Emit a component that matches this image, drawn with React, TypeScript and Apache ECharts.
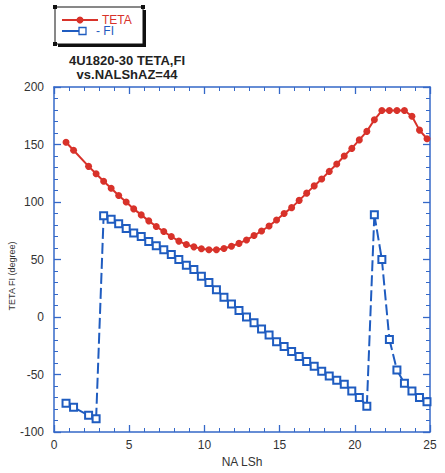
import React, { useEffect, useRef } from 'react';
import * as echarts from 'echarts';

// NA LSh positions shared by both curves
const xs = [
  0.8, 1.3, 2.3, 2.8, 3.3, 3.8, 4.3, 4.8, 5.3, 5.8, 6.3, 6.8, 7.3, 7.8, 8.3, 8.8,
  9.3, 9.8, 10.3, 10.8, 11.3, 11.8, 12.3, 12.8, 13.3, 13.8, 14.3, 14.8, 15.3, 15.8,
  16.3, 16.8, 17.3, 17.8, 18.3, 18.8, 19.3, 19.8, 20.3, 20.8, 21.3, 21.8, 22.3, 22.8,
  23.3, 23.8, 24.3, 24.8,
];

const teta = [
  152, 145, 131, 124.5, 118, 112, 105.7, 100, 94, 88.8, 83.6, 78.7, 74.3, 70, 66, 63,
  61, 59.3, 58.5, 58.5, 59.5, 61.5, 64, 67, 70.8, 74.8, 79.1, 84.3, 90, 95.1,
  101.4, 107.7, 114, 120, 126.6, 133, 140, 146.6, 154, 161.4, 171.5, 179.5, 179.5, 179.5,
  179.5, 174.5, 162.5, 155,
];

const fi = [
  -75, -78.5, -85.5, -88.5, 88, 85, 81, 77, 73, 70, 65.7, 62, 58.5, 54.3, 50, 45,
  41.4, 35.5, 30, 23.7, 17.1, 11.4, 5.7, 0, -5.1, -10.5, -15.7, -21.5, -25.7, -30,
  -34.3, -38.6, -42.9, -47.1, -51.4, -55.1, -58.5, -64.3, -70, -77.5, 89, 50, -19.5, -46,
  -57.7, -64.3, -70, -73.7,
];

const yTicks = { min: -100, max: 200, interval: 50 };
const xTicks = { min: 0, max: 25, interval: 5 };

const titleLines = ['4U1820-30 TETA,FI', 'vs.NALShAZ=44'];
const legendNames = ['TETA', '- FI'];

const RED = '#d8322a';
const BLUE = '#1f5cc0';
const AXIS = '#3468c8';
const FONT = '"Liberation Sans", Arial, Helvetica, sans-serif';

const isJump = (i: number) => i > 0 && Math.abs(fi[i] - fi[i - 1]) > 10;

const mkAxisLine = () => ({ show: true, onZero: false, lineStyle: { color: AXIS, width: 1.5 } });
const mkTick = () => ({ show: true, inside: true, length: 7, lineStyle: { color: AXIS, width: 1.3 } });
const mkMinor = () => ({ show: true, splitNumber: 5, length: 4, lineStyle: { color: AXIS, width: 1 } });

export default function App() {
  const ref = useRef<HTMLDivElement>(null);

  useEffect(() => {
    if (!ref.current) return;
    const chart = echarts.init(ref.current, undefined, { renderer: 'svg' });

    // FI split into continuous runs (solid, squares) and jumps (dashed)
    const runs: number[][] = [];
    const jumps: number[][] = [];
    xs.forEach((_, i) => {
      if (i === 0 || isJump(i)) runs.push([]);
      if (isJump(i)) jumps.push([i - 1, i]);
      runs[runs.length - 1].push(i);
    });

    const jumpSeries = jumps.map((seg) => ({
      type: 'line',
      data: seg.map((i) => [xs[i], fi[i]]),
      symbol: 'none',
      z: 2,
      lineStyle: { color: BLUE, width: 2, type: [11, 4] },
    }));
    const runSeries = runs.map((seg) => ({
      type: 'line',
      data: seg.map((i) => [xs[i], fi[i]]),
      symbol: 'emptyRect',
      symbolSize: 7,
      z: 3,
      itemStyle: { color: BLUE, borderColor: '#2a78d0', borderWidth: 1.3 },
      lineStyle: { color: BLUE, width: 2 },
    }));

    const text = (t: string, x: number, y: number, font: string, fill: string, align = 'center') => ({
      type: 'text',
      x,
      y,
      style: { text: t, align, verticalAlign: 'middle', font, fill },
    });

    const option: any = {
      animation: false,
      grid: { left: 54, right: 15, top: 87, bottom: 36 },
      graphic: [
        // legend box
        { type: 'rect', shape: { x: 58, y: 10, width: 88, height: 37 }, style: { fill: '#111' } },
        {
          type: 'rect',
          shape: { x: 55, y: 7, width: 88, height: 37 },
          style: { fill: '#fff', stroke: '#111', lineWidth: 1 },
        },
        { type: 'rect', shape: { x: 53, y: 5, width: 4, height: 4 }, style: { fill: '#111' } },
        { type: 'rect', shape: { x: 141, y: 5, width: 4, height: 4 }, style: { fill: '#111' } },
        { type: 'rect', shape: { x: 53, y: 42, width: 4, height: 4 }, style: { fill: '#111' } },
        { type: 'line', shape: { x1: 62, y1: 20, x2: 98, y2: 20 }, style: { stroke: RED, lineWidth: 2 } },
        { type: 'circle', shape: { cx: 80, cy: 20, r: 3.5 }, style: { fill: RED } },
        text(legendNames[0], 102, 20, `12px ${FONT}`, RED, 'left'),
        { type: 'line', shape: { x1: 62, y1: 31, x2: 80, y2: 31 }, style: { stroke: BLUE, lineWidth: 2 } },
        {
          type: 'rect',
          shape: { x: 79, y: 27.5, width: 7, height: 7 },
          style: { fill: '#fff', stroke: BLUE, lineWidth: 1.3 },
        },
        text(legendNames[1], 96, 31, `12px ${FONT}`, BLUE, 'left'),
        // title
        text(titleLines[0], 127, 60, `bold 13px ${FONT}`, '#222'),
        text(titleLines[1], 127, 74, `bold 13px ${FONT}`, '#222'),
        // y axis name
        {
          type: 'text',
          x: 12,
          y: 276,
          rotation: Math.PI / 2,
          style: {
            text: 'TETA FI (degree)',
            align: 'center',
            verticalAlign: 'middle',
            font: `9px ${FONT}`,
            fill: '#333',
          },
        },
      ],
      xAxis: [
        {
          type: 'value',
          ...xTicks,
          name: 'NA LSh',
          nameLocation: 'middle',
          nameGap: 24,
          nameTextStyle: { color: '#333', fontSize: 12 },
          axisLine: mkAxisLine(),
          axisTick: mkTick(),
          minorTick: mkMinor(),
          axisLabel: { color: '#333', fontSize: 12, margin: 7 },
          splitLine: { show: false },
        },
        {
          type: 'value',
          position: 'top',
          ...xTicks,
          axisLine: mkAxisLine(),
          axisTick: mkTick(),
          minorTick: mkMinor(),
          axisLabel: { show: false },
          splitLine: { show: false },
        },
      ],
      yAxis: [
        {
          type: 'value',
          ...yTicks,
          axisLine: mkAxisLine(),
          axisTick: mkTick(),
          minorTick: mkMinor(),
          axisLabel: { color: '#333', fontSize: 12, margin: 10 },
          splitLine: { show: false },
        },
        {
          type: 'value',
          position: 'right',
          ...yTicks,
          axisLine: mkAxisLine(),
          axisTick: mkTick(),
          minorTick: mkMinor(),
          axisLabel: { show: false },
          splitLine: { show: false },
        },
      ],
      series: [
        ...jumpSeries,
        ...runSeries,
        {
          type: 'line',
          data: xs.map((x, i) => [x, teta[i]]),
          symbol: 'circle',
          symbolSize: 7,
          z: 4,
          itemStyle: { color: RED },
          lineStyle: { color: RED, width: 2 },
        },
      ],
    };

    chart.setOption(option);
    return () => chart.dispose();
  }, []);

  return (
    <div
      ref={ref}
      style={{ position: 'absolute', left: 0, top: 0, width: 445, height: 473 }}
    />
  );
}
